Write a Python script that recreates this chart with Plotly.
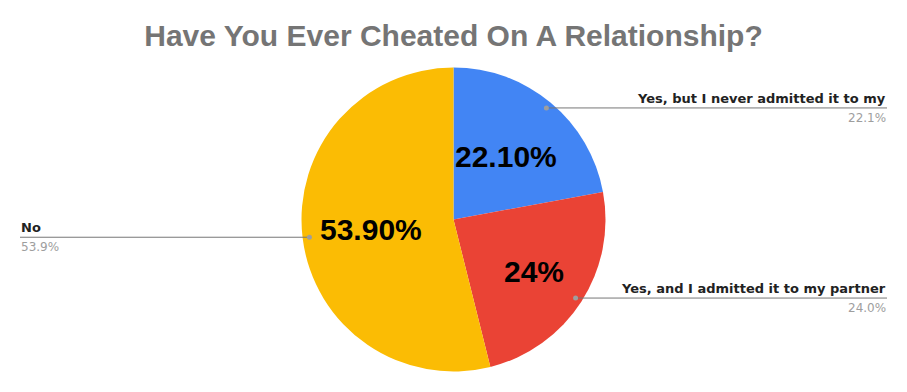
import math
import plotly.graph_objects as go

# ---- data ----
labels = ["Yes, but I never admitted it to my", "Yes, and I admitted it to my partner", "No"]
values = [22.1, 24.0, 53.9]
inside_text = ["22.10%", "24%", "53.90%"]
pct_text = ["22.1%", "24.0%", "53.9%"]
colors = ["#4285F4", "#EA4335", "#FBBC04"]
title = "Have You Ever Cheated On A Relationship?"

# ---- layout constants (page pixels) ----
W, H = 907, 392
OFF = 8  # page body margin; figure origin sits at (8, 8) in the page
CX, CY, R = 453.5, 219.5, 152.0
inside_r = [0.54, 0.63, 0.55]
dot_r = 0.955
right_x, left_x = 887, 20
FONT = "Arial, Liberation Sans, sans-serif"
LFONT = "DejaVu Sans, Verdana, sans-serif"

def px(x):
    return (x - OFF) / W

def py(y):
    return 1 - (y - OFF) / H

fig = go.Figure(go.Pie(
    labels=labels, values=values, sort=False, direction="clockwise", rotation=0,
    marker=dict(colors=colors, line=dict(width=0)),
    textinfo="none", hoverinfo="label+percent", showlegend=False,
    domain=dict(x=[px(CX - R), px(CX + R)], y=[py(CY + R), py(CY - R)]),
))

total = sum(values)
cum = 0.0
annotations = []
shapes = []
for i, v in enumerate(values):
    mid = (cum + v / 2) / total * 2 * math.pi
    cum += v
    s, c = math.sin(mid), math.cos(mid)
    # inside label
    ix, iy = CX + inside_r[i] * R * s, CY - inside_r[i] * R * c
    annotations.append(dict(x=px(ix), y=py(iy), xref="paper", yref="paper",
                            text=inside_text[i], showarrow=False,
                            xanchor="center", yanchor="middle",
                            font=dict(family=FONT, size=30, color="#000000", weight="bold")))
    # leader line
    dx, dy = CX + dot_r * R * s, CY - dot_r * R * c
    right = s >= 0
    ex = right_x if right else left_x
    shapes.append(dict(type="line", xref="paper", yref="paper",
                       x0=px(dx), y0=py(dy), x1=px(ex), y1=py(dy),
                       line=dict(color="#777777", width=1)))
    shapes.append(dict(type="circle", xref="paper", yref="paper",
                       x0=px(dx - 2.5), x1=px(dx + 2.5), y0=py(dy + 2.5), y1=py(dy - 2.5),
                       fillcolor="#9E9E9E", line=dict(width=0)))
    anchor = "right" if right else "left"
    annotations.append(dict(x=px(ex), y=py(dy - 1), xref="paper", yref="paper",
                            text="<b>" + labels[i] + "</b>", showarrow=False,
                            xanchor=anchor, yanchor="bottom", borderpad=0,
                            font=dict(family=LFONT, size=13, color="#222222")))
    annotations.append(dict(x=px(ex), y=py(dy + 2), xref="paper", yref="paper",
                            text=pct_text[i], showarrow=False,
                            xanchor=anchor, yanchor="top", borderpad=0,
                            font=dict(family=LFONT, size=12, color="#9E9E9E")))

fig.update_layout(
    width=W, height=H, margin=dict(l=0, r=0, t=0, b=0),
    paper_bgcolor="white", plot_bgcolor="white",
    title=dict(text="<b>" + title + "</b>", x=px(453.5), xanchor="center",
               y=py(35.2), yanchor="middle", yref="paper",
               font=dict(family=FONT, size=30, color="#757575")),
    annotations=annotations, shapes=shapes,
)

fig.write_html("out.html")
